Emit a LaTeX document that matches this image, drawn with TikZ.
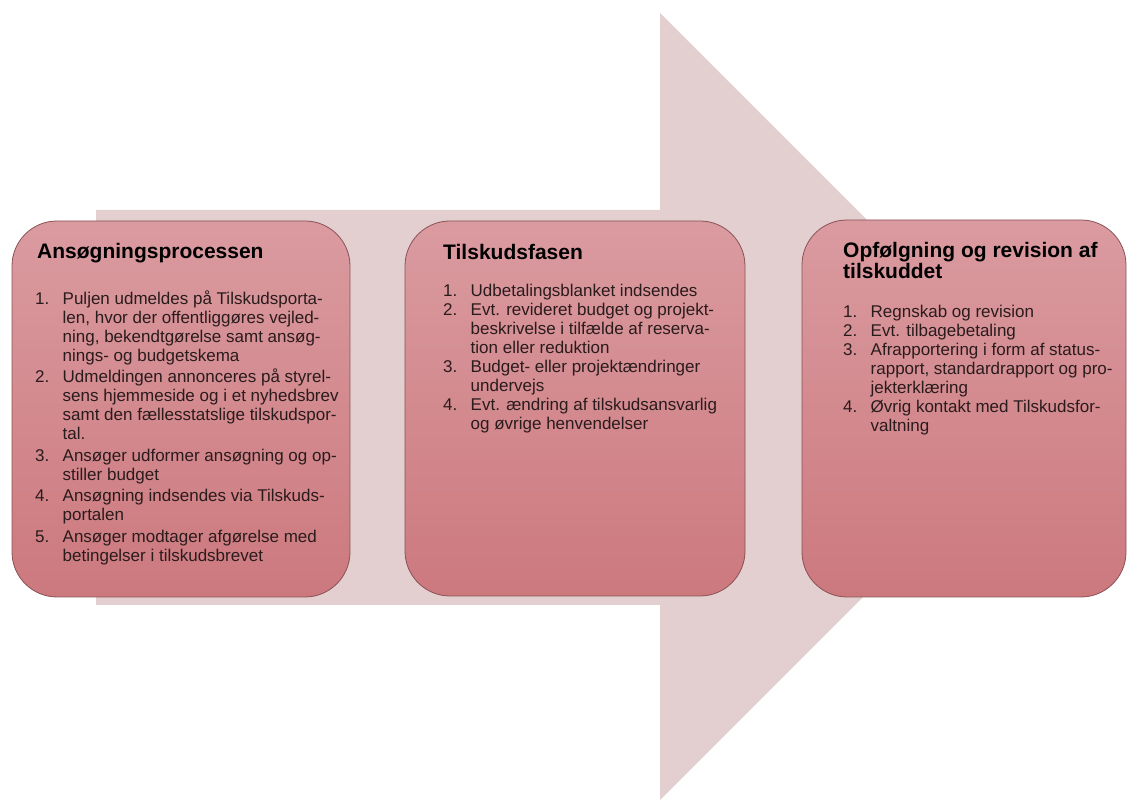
\documentclass[tikz,border=0pt]{standalone}
\usepackage{fontspec}
\setmainfont{Liberation Sans}
\definecolor{arrowfill}{HTML}{E3CFD0}
\definecolor{boxtop}{HTML}{DA9BA0}
\definecolor{boxbot}{HTML}{CC797E}
\definecolor{boxline}{HTML}{8A5256}
\definecolor{txt}{HTML}{2A1B1C}
\newcommand{\itmno}[1]{\makebox[27.5pt][l]{#1}}
\newcommand{\itmind}{\hspace*{27.5pt}}
\newcommand{\bodyfont}{\fontsize{17}{19}\selectfont}
\newcommand{\titlefont}{\fontsize{21}{21}\selectfont\bfseries}
\tikzset{
  phasebox/.style={draw=boxline, line width=0.8pt, rounded corners=45pt,
    top color=boxtop, bottom color=boxbot, inner sep=0pt},
  titletext/.style={anchor=base west, inner sep=0pt, text=black, font=\titlefont},
  bodytext/.style={anchor=base west, inner sep=0pt, text=txt}
}
\begin{document}
\begin{tikzpicture}[x=1pt,y=1pt]
\useasboundingbox (0,0) rectangle (1128,800);
% big arrow
\fill[arrowfill] (96,590) -- (660,590) -- (660,787) -- (1053.5,393.5) -- (660,0) -- (660,195) -- (96,195) -- cycle;
% boxes
\node[phasebox, minimum width=338pt, minimum height=376pt] (b1) at (181,391) {};
\node[phasebox, minimum width=340pt, minimum height=375pt] (b2) at (575,391.5) {};
\node[phasebox, minimum width=324pt, minimum height=377pt] (b3) at (964,391.5) {};
% titles
\node[titletext] (t1) at (37,541) {Ansøgningsprocessen};
\node[titletext] (t2) at (443,540) {Tilskudsfasen};
\node[titletext, align=left] (t3) at (843,542) {\parbox[t]{270pt}{\titlefont Opfølgning og revision af\\ tilskuddet}};
% bodies
\node[bodytext] (l1) at (35,495.5) {\parbox[t]{320pt}{\bodyfont\raggedright
\itmno{1.}Puljen udmeldes på Tilskudsporta-\\
\itmind len, hvor der offentliggøres vejled-\\
\itmind ning, bekendtgørelse samt ansøg-\\
\itmind nings- og budgetskema\\[2.5pt]
\itmno{2.}Udmeldingen annonceres på styrel-\\
\itmind sens hjemmeside og i et nyhedsbrev\\
\itmind samt den fællesstatslige tilskudspor-\\
\itmind tal.\\[2.5pt]
\itmno{3.}Ansøger udformer ansøgning og op-\\
\itmind stiller budget\\[2.5pt]
\itmno{4.}Ansøgning indsendes via Tilskuds-\\
\itmind portalen\\[2.5pt]
\itmno{5.}Ansøger modtager afgørelse med\\
\itmind betingelser i tilskudsbrevet}};
\node[bodytext] (l2) at (443,503) {\parbox[t]{300pt}{\bodyfont\raggedright
\itmno{1.}Udbetalingsblanket indsendes\\
\itmno{2.}Evt. revideret budget og projekt-\\
\itmind beskrivelse i tilfælde af reserva-\\
\itmind tion eller reduktion\\
\itmno{3.}Budget- eller projektændringer\\
\itmind undervejs\\
\itmno{4.}Evt. ændring af tilskudsansvarlig\\
\itmind og øvrige henvendelser}};
\node[bodytext] (l3) at (843,482) {\parbox[t]{280pt}{\bodyfont\raggedright
\itmno{1.}Regnskab og revision\\
\itmno{2.}Evt. tilbagebetaling\\
\itmno{3.}Afrapportering i form af status-\\
\itmind rapport, standardrapport og pro-\\
\itmind jekterklæring\\
\itmno{4.}Øvrig kontakt med Tilskudsfor-\\
\itmind valtning}};
\end{tikzpicture}
\end{document}
